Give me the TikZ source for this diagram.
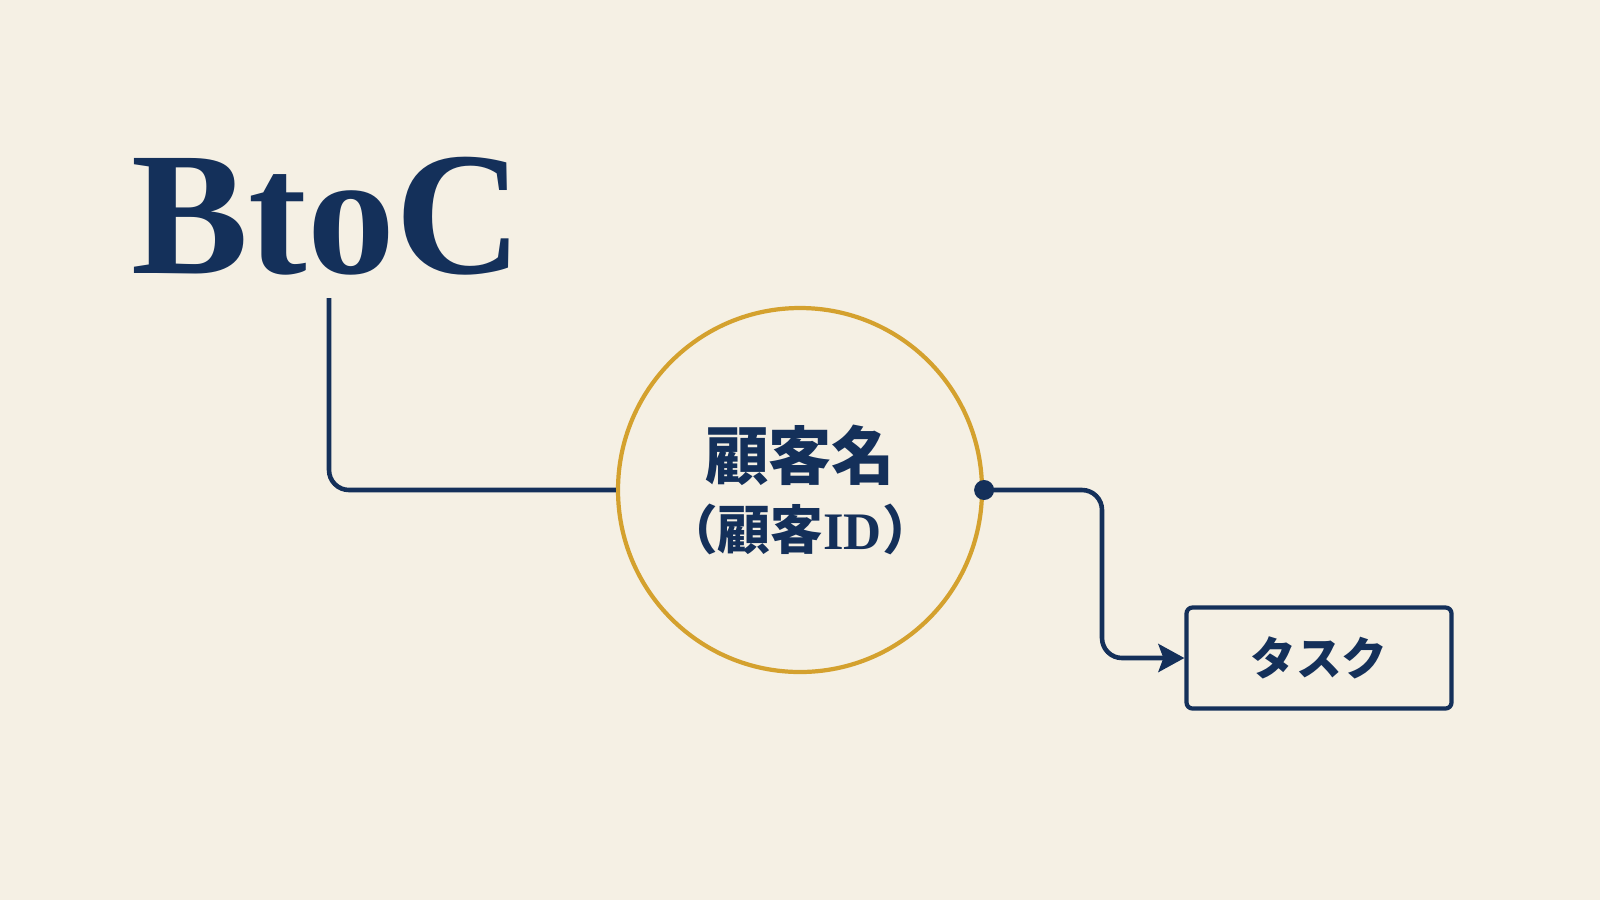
\documentclass[tikz,border=0pt]{standalone}
\usepackage{fontspec}
\setmainfont{Liberation Serif}
\newfontfamily\cjk{Noto Sans CJK JP}
\usepackage{xcolor}
\usetikzlibrary{arrows.meta,positioning}
\definecolor{Paper}{HTML}{F5F0E4}
\definecolor{Navy}{HTML}{14305A}
\definecolor{Gold}{HTML}{D4A12E}
\tikzset{
  every node/.style={
    text=Navy
  },
  title/.style={
    font=\bfseries\fontsize{50pt}{56pt}\selectfont,
    inner sep=0pt
  },
  entity/.style={
    shape=circle,
    draw=Gold,
    line width=1.2pt,
    minimum size=3.64cm,
    align=center
  },
  target/.style={
    shape=rectangle,
    draw=Navy,
    line width=1.2pt,
    rounded corners=0.06cm,
    minimum width=2.65cm,
    minimum height=1.01cm,
    font=\cjk\bfseries\fontsize{13pt}{15pt}\selectfont
  },
  link/.style={
    draw=Navy,
    line width=1.3pt,
    rounded corners=0.2cm
  }
}

\begin{document}
\begin{tikzpicture}
    \fill [Paper] (0,0) rectangle (16,-9);
    \useasboundingbox (0,0) rectangle (16,-9);

    \node [title, anchor=base] (btoc) at (3.27,-2.73) {BtoC};
    \node [entity] (name) at (8.00,-4.90) {
      {\cjk\bfseries\fontsize{18pt}{22pt}\selectfont 顧客名}\\[0.14cm]
      {\fontsize{15pt}{18pt}\selectfont\cjk\bfseries （顧客{\rmfamily ID}）}
    };
    \node [target] (task) at (13.19,-6.58) {タスク};

    \coordinate (start) at (3.29,-2.98);
    \coordinate (bend) at (11.02,-4.90);

    \draw [link] (start) |- (name.west);
    \draw [link, -{Stealth[length=0.26cm,width=0.28cm,inset=0.05cm]}]
      (name.east) -- (bend) |- (task.west);
    \fill [Navy] (name.east) circle (0.1cm);
\end{tikzpicture}
\end{document}
